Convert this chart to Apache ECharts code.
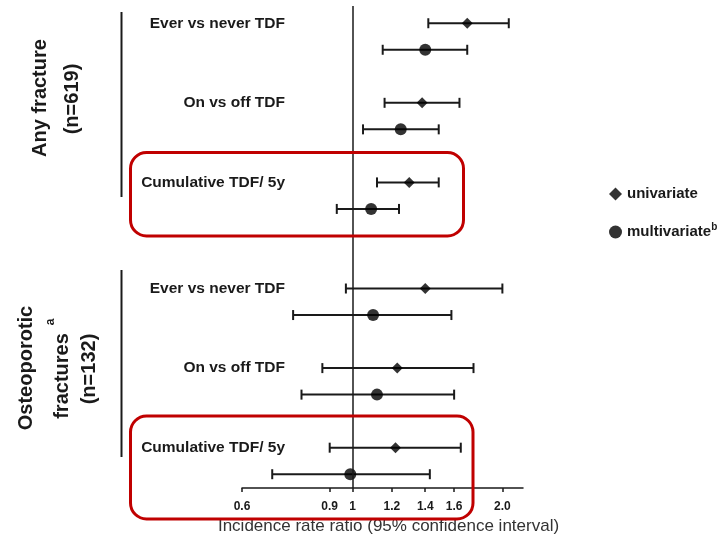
<!DOCTYPE html>
<html><head><meta charset="utf-8">
<script src="https://cdn.jsdelivr.net/npm/echarts@6/dist/echarts.min.js"></script>
<style>html,body{margin:0;padding:0;background:#fff}#c{width:720px;height:540px}</style>
</head><body><div id="c"></div>
<script>
const rowLabels = ['Ever vs never TDF','On vs off TDF','Cumulative TDF/ 5y','Ever vs never TDF','On vs off TDF','Cumulative TDF/ 5y'];
const labelRows = [0,3,6,10,13,16];
const uniRows = [0,3,6,10,13,16];
const uniEst = [1.70,1.38,1.30,1.40,1.23,1.22];
const uniLow = [1.42,1.16,1.12,0.97,0.87,0.90];
const uniHigh = [2.06,1.64,1.49,2.00,1.75,1.65];
const multiRows = [1,4,7,11,14,17];
const multiEst = [1.40,1.25,1.09,1.10,1.12,0.99];
const multiLow = [1.15,1.05,0.93,0.76,0.79,0.69];
const multiHigh = [1.70,1.49,1.24,1.58,1.60,1.43];
const tickValues = [0.6,0.9,1,1.2,1.4,1.6,2.0];
const tickLabels = ['0.6','0.9','1','1.2','1.4','1.6','2.0'];
const seriesNames = ['univariate','multivariate'];

const FONT = '"Liberation Sans", Arial, Helvetica, sans-serif';
const INK = '#1a1a1a';
const RED = '#c00000';

const errData = [];
uniRows.forEach((r,i)=>errData.push([uniLow[i], uniHigh[i], r]));
multiRows.forEach((r,i)=>errData.push([multiLow[i], multiHigh[i], r]));

function errRender(params, api){
  const lo = api.coord([api.value(0), api.value(2)]);
  const hi = api.coord([api.value(1), api.value(2)]);
  const h = 5;
  const style = {stroke: INK, lineWidth: 2};
  return {type:'group', children:[
    {type:'line', shape:{x1:lo[0],y1:lo[1],x2:hi[0],y2:hi[1]}, style},
    {type:'line', shape:{x1:lo[0],y1:lo[1]-h,x2:lo[0],y2:lo[1]+h}, style},
    {type:'line', shape:{x1:hi[0],y1:hi[1]-h,x2:hi[0],y2:hi[1]+h}, style}
  ]};
}

function rotText(text, x, y, size){
  return {type:'text', x, y, rotation: Math.PI/2,
    style:{text, fontSize:size, fontWeight:'bold', fontFamily:FONT, fill:INK, align:'center', verticalAlign:'middle'}};
}

const chart = echarts.init(document.getElementById('c'), null, {renderer:'canvas'});
chart.setOption({
  animation:false,
  backgroundColor:'#fff',
  grid:{left:242, right:197, top:6, bottom:52},
  xAxis:{
    type:'log', logBase:10, min:0.6, max:2.2, position:'bottom',
    axisLine:{show:true, onZero:false, lineStyle:{color:INK, width:1.5}},
    axisTick:{show:true, customValues:tickValues, length:4, lineStyle:{color:INK, width:1.5}},
    axisLabel:{customValues:tickValues, margin:13, fontSize:12, fontWeight:'bold', fontFamily:FONT, color:INK,
      formatter:(v)=>{const i=tickValues.findIndex(t=>Math.abs(t-v)<1e-6); return i>=0?tickLabels[i]:'';}},
    splitLine:{show:false},
    name:'Incidence rate ratio (95% confidence interval)',
    nameLocation:'middle', nameGap:30,
    nameTextStyle:{fontSize:17, fontFamily:FONT, color:'#333', padding:[0,0,0,12]}
  },
  yAxis:{
    type:'value', inverse:true, min:-0.65, max:17.52,
    axisLine:{show:false}, axisTick:{show:false}, splitLine:{show:false},
    axisLabel:{customValues:labelRows, margin:-43, fontSize:15.5, fontWeight:'bold', fontFamily:FONT, color:INK,
      formatter:(v)=>{const i=labelRows.indexOf(v); return i>=0?rowLabels[i]:'';}}
  },
  legend:{
    data:seriesNames, orient:'vertical', left:604, top:179,
    itemWidth:13, itemHeight:13, itemGap:18,
    textStyle:{fontSize:15, fontWeight:'bold', fontFamily:FONT, color:INK, lineHeight:20,
      rich:{n:{fontSize:15, fontWeight:'bold', fontFamily:FONT, color:INK, lineHeight:20},
            s:{fontSize:10, fontWeight:'bold', fontFamily:FONT, color:INK, lineHeight:10, verticalAlign:'top'}}},
    formatter:(name)=> name==='multivariate' ? '{n|multivariate}{s|b}' : '{n|univariate}'
  },
  series:[
    {type:'custom', renderItem:errRender, data:errData, encode:{x:[0,1], y:2}, z:2, silent:true,
      markLine:{silent:true, symbol:['none','none'], label:{show:false},
        lineStyle:{color:INK, width:1.5, type:'solid'}, data:[{xAxis:1}]}},
    {name:seriesNames[0], type:'scatter', symbol:'diamond', symbolSize:11, z:3,
      itemStyle:{color:'#000'}, data:uniRows.map((r,i)=>[uniEst[i], r])},
    {name:seriesNames[1], type:'scatter', symbol:'circle', symbolSize:12, z:3,
      itemStyle:{color:'#000'}, data:multiRows.map((r,i)=>[multiEst[i], r])}
  ],
  graphic:[
    {type:'line', shape:{x1:121.5,y1:12,x2:121.5,y2:197}, style:{stroke:INK, lineWidth:2}},
    {type:'line', shape:{x1:121.5,y1:270,x2:121.5,y2:457}, style:{stroke:INK, lineWidth:2}},
    rotText('Any fracture', 40, 98, 20),
    rotText('(n=619)', 72, 99, 20),
    rotText('Osteoporotic', 26, 368, 20),
    rotText('fractures', 62, 376, 20),
    {type:'text', x:51, y:322, rotation:Math.PI/2,
      style:{text:'a', fontSize:12, fontWeight:'bold', fontFamily:FONT, fill:INK, align:'center', verticalAlign:'middle'}},
    rotText('(n=132)', 89, 369, 20),
    {type:'rect', shape:{x:130.5, y:152.5, width:333, height:83.5, r:16}, style:{fill:'none', stroke:RED, lineWidth:3}, z:10},
    {type:'rect', shape:{x:130.5, y:416, width:342.5, height:103, r:16}, style:{fill:'none', stroke:RED, lineWidth:3}, z:10}
  ]
});
</script>
</body></html>
